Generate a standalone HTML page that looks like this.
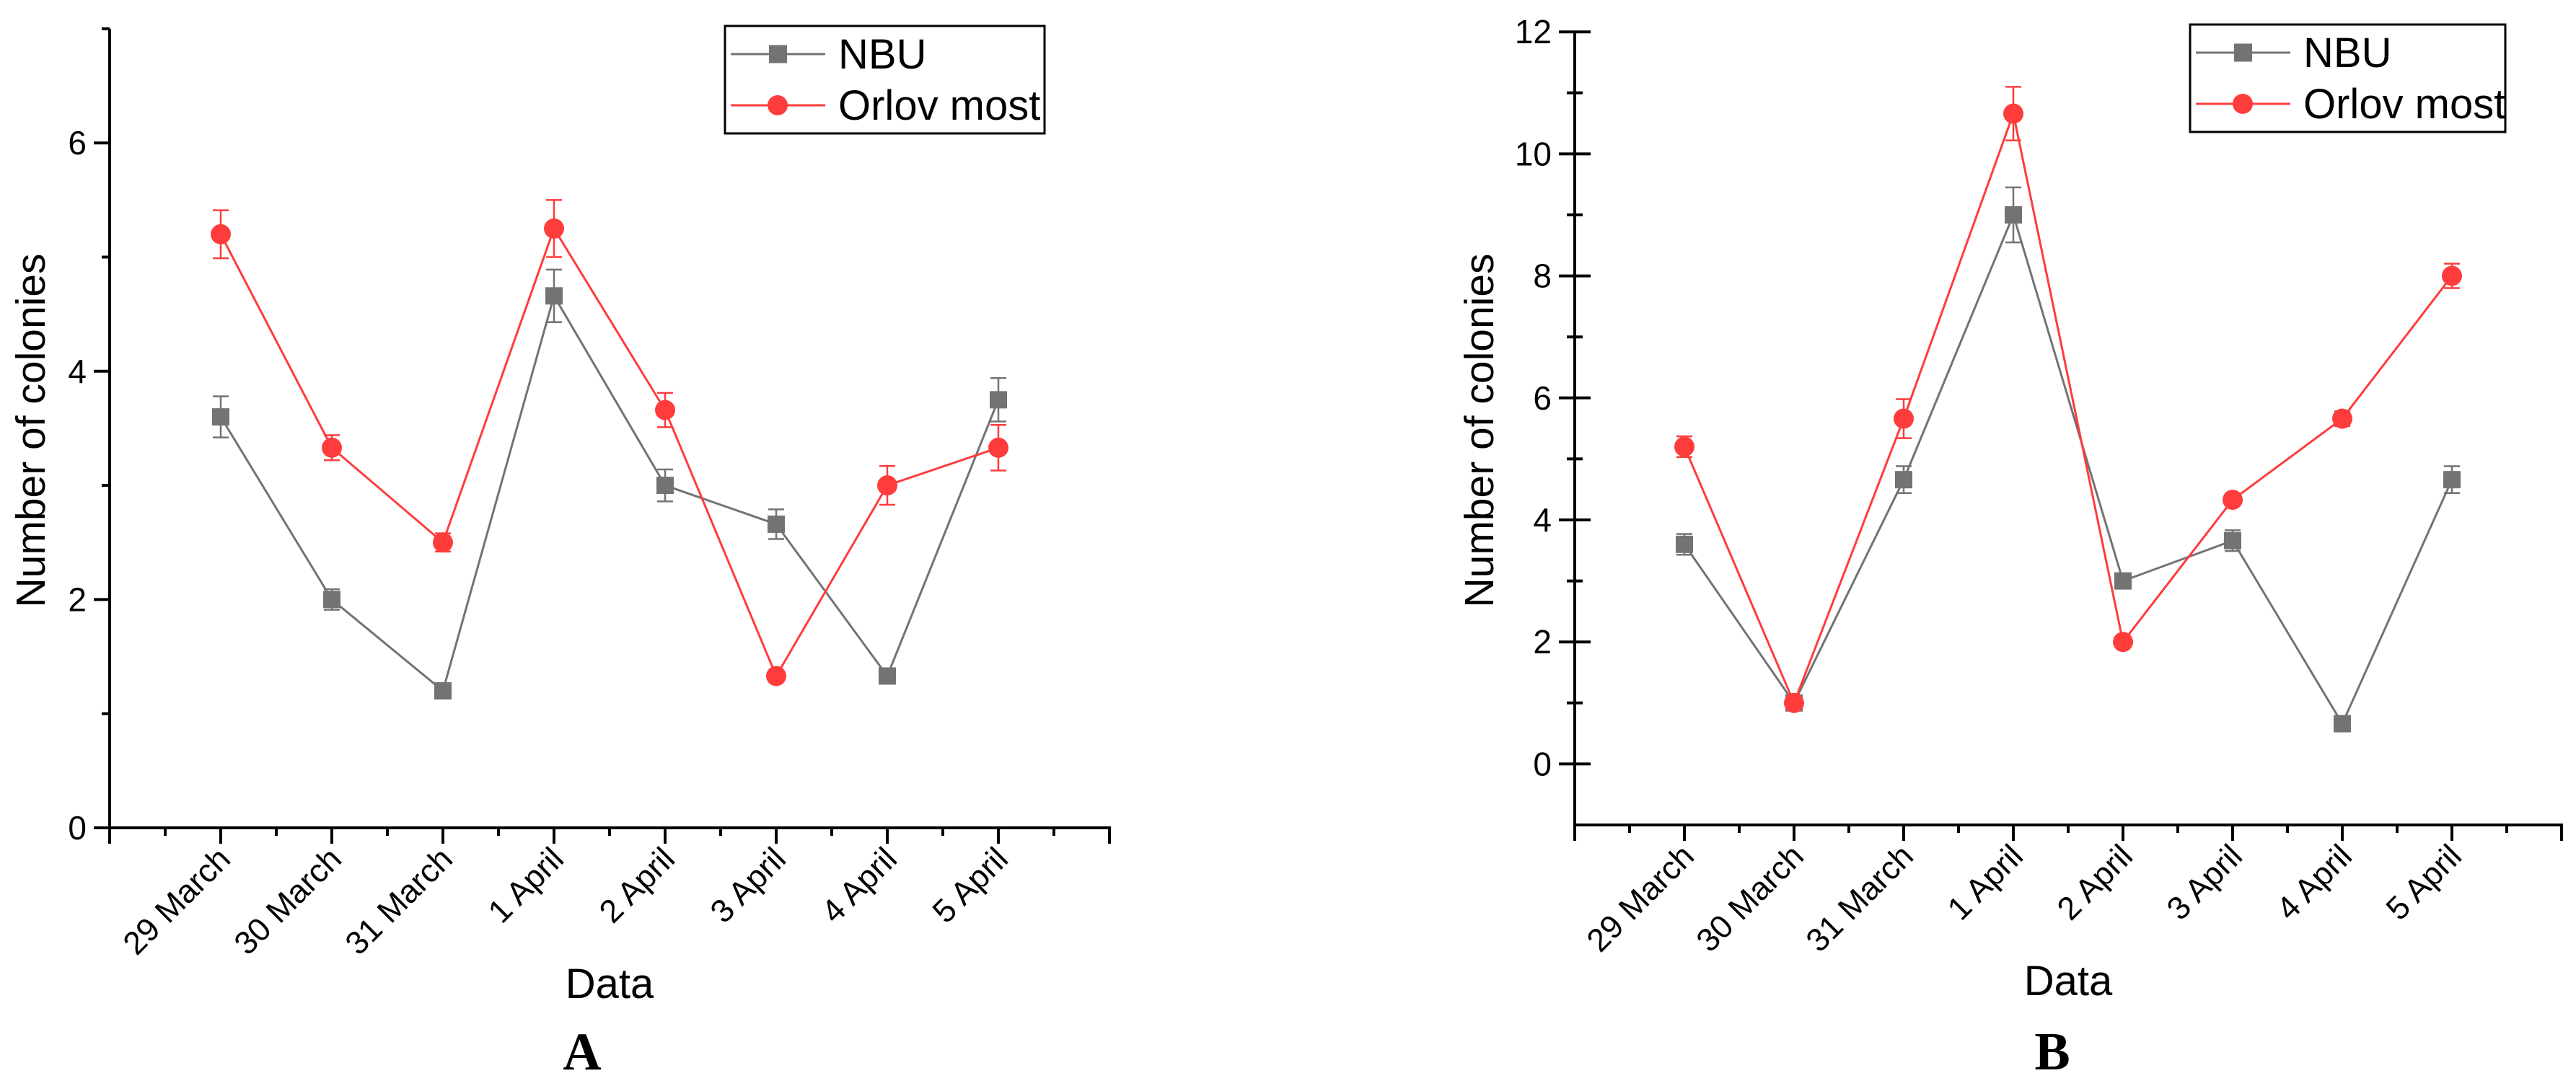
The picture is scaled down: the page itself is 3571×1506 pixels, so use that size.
<!DOCTYPE html>
<html><head><meta charset="utf-8"><style>
html,body{margin:0;padding:0;background:#fff;}
svg{display:block;font-family:"Liberation Sans",Arial,sans-serif;}
</style></head><body>
<svg id="fig" width="3571" height="1506" viewBox="0 0 3571 1506" xmlns="http://www.w3.org/2000/svg"></svg>
<script>
const categories = ["29 March","30 March","31 March","1 April","2 April","3 April","4 April","5 April"];
const nbuA = [3.6, 2.0, 1.2, 4.66, 3.0, 2.66, 1.33, 3.75];
const nbuAErr = [0.18, 0.09, 0.05, 0.23, 0.14, 0.13, 0.05, 0.19];
const orlovA = [5.2, 3.33, 2.5, 5.25, 3.66, 1.33, 3.0, 3.33];
const orlovAErr = [0.21, 0.11, 0.08, 0.25, 0.15, 0.04, 0.17, 0.2];
const nbuB = [3.6, 1.0, 4.66, 9.0, 3.0, 3.66, 0.66, 4.66];
const nbuBErr = [0.17, 0.05, 0.22, 0.45, 0.05, 0.17, 0.05, 0.22];
const orlovB = [5.2, 1.0, 5.66, 10.66, 2.0, 4.33, 5.66, 8.0];
const orlovBErr = [0.17, 0.05, 0.32, 0.44, 0.05, 0.06, 0.12, 0.2];
const yTicksA = [0, 2, 4, 6];
const yTicksB = [0, 2, 4, 6, 8, 10, 12];

const NS = "http://www.w3.org/2000/svg";
const svg = document.getElementById('fig');
function mk(tag, attrs, parent, text){
  const e = document.createElementNS(NS, tag);
  for (const k in attrs) e.setAttribute(k, attrs[k]);
  if (text !== undefined) e.textContent = text;
  (parent || svg).appendChild(e);
  return e;
}
const GRAY = "#737373", RED = "#ff3c3c";

function drawChart(c){
  const g = mk('g', {});
  
  
  const xS = i => c.x0 + (i + 1) * c.step;
  const yS = v => c.yBase - (v - c.yMin) * c.unit;
  const xEnd = c.x0 + 9 * c.step;
  const yTop = yS(c.yMax);
  const ya = mk('line', {x1:c.x0, y1:c.yBase+2, x2:c.x0, y2:yTop, stroke:'#000','stroke-width':4}, g);
  
  
  const xa = mk('line', {x1:c.x0-2, y1:c.yBase, x2:xEnd+2, y2:c.yBase, stroke:'#000','stroke-width':4}, g);
  
  
  for (let v = c.yMin; v <= c.yMax + 1e-9; v += 1){
    const major = c.yTicks.includes(v);
    const y = yS(v);
    if (major){
      const t = mk('line', {x1:c.x0-22, y1:y, x2:c.x0+(c.inner?22:0), y2:y, stroke:'#000','stroke-width':4}, g);
      
      
      const l = mk('text', {x:c.x0-32, y:y+16, 'font-size':46, 'text-anchor':'end'}, g, String(v));
      
      
    } else if (Math.abs(v - c.yMin) > 1e-9) {
      const t = mk('line', {x1:c.x0-11, y1:y, x2:c.x0+(c.inner?11:0), y2:y, stroke:'#000','stroke-width':4}, g);
      
      
    }
  }
  for (let k = 0; k <= 18; k++){
    const x = c.x0 + k * c.step / 2;
    const major = k % 2 === 0;
    const t = mk('line', {x1:x, y1:c.yBase, x2:x, y2:c.yBase + (major?22:11), stroke:'#000','stroke-width':4}, g);
    
    
  }
  categories.forEach((cat, i) => {
    const x = xS(i) + 16, y = c.yBase + 46;
    const l = mk('text', {x:x, y:y, 'font-size':45, 'text-anchor':'end', transform:`rotate(-45 ${x} ${y})`}, g, cat);
    
    
  });
  const xt = mk('text', {x:(c.x0+xEnd)/2, y:c.yBase+236, 'font-size':58, 'text-anchor':'middle'}, g, 'Data');
  
  
  const yt = mk('text', {x:c.ytX, y:597, 'font-size':57, 'text-anchor':'middle', transform:`rotate(-90 ${c.ytX} 597)`}, g, 'Number of colonies');
  
  
  const pl = mk('text', {x:c.panelX, y:1483, 'font-size':74, 'font-weight':'bold', 'text-anchor':'middle', 'font-family':'"Liberation Serif",serif'}, g, c.panel);
  
  
  const series = [
    {vals:c.nbu, err:c.nbuErr, color:GRAY, shape:'square', name:'nbu'},
    {vals:c.orlov, err:c.orlovErr, color:RED, shape:'circle', name:'orlov-most'}
  ];
  series.forEach(s => {
    const sg = mk('g', {}, g);
    
    
    const pts = s.vals.map((v,i) => xS(i) + ',' + yS(v)).join(' ');
    const pl = mk('polyline', {points:pts, fill:'none', stroke:s.color, 'stroke-width':3}, sg);
    
    
    s.vals.forEach((v,i) => {
      const x = xS(i), y1 = yS(v + s.err[i]), y2 = yS(v - s.err[i]);
      const eb = mk('path', {d:`M${x},${y1}V${y2}M${x-11},${y1}H${x+11}M${x-11},${y2}H${x+11}`, stroke:s.color, 'stroke-width':2.5, fill:'none'}, sg);
      
      
      let m;
      if (s.shape === 'square') m = mk('rect', {x:x-12, y:yS(v)-12, width:24, height:24, fill:s.color}, sg);
      else m = mk('circle', {cx:x, cy:yS(v), r:14, fill:s.color}, sg);
      
      
    });
  });
  const L = c.legend;
  const lg = mk('g', {}, g);
  
  
  mk('rect', {x:L.x, y:L.y, width:L.w, height:L.h, fill:'#fff', stroke:'#000', 'stroke-width':3}, lg);
  const rows = [{t:'NBU', color:GRAY, shape:'square', dy:39}, {t:'Orlov most', color:RED, shape:'circle', dy:110}];
  rows.forEach(r => {
    const e = mk('g', {}, lg);
    
    
    const y = L.y + r.dy;
    mk('line', {x1:L.x+8, y1:y, x2:L.x+139, y2:y, stroke:r.color, 'stroke-width':3}, e);
    if (r.shape === 'square') mk('rect', {x:L.x+61, y:y-12.5, width:25, height:25, fill:r.color}, e);
    else mk('circle', {cx:L.x+73, cy:y, r:14, fill:r.color}, e);
    mk('text', {x:L.x+157, y:y+20, 'font-size':58}, e, r.t);
  });
}

drawChart({name:'chart-a', panel:'A', panelX:807, x0:152, step:154, yBase:1148, yMin:0, yMax:7, unit:158.3,
  yTicks:yTicksA, inner:false, ytX:62, nbu:nbuA, nbuErr:nbuAErr, orlov:orlovA, orlovErr:orlovAErr,
  legend:{x:1005, y:36, w:443, h:149}});
drawChart({name:'chart-b', panel:'B', panelX:2845, x0:2183, step:152, yBase:1144, yMin:-1, yMax:12, unit:84.6,
  yTicks:yTicksB, inner:true, ytX:2070, nbu:nbuB, nbuErr:nbuBErr, orlov:orlovB, orlovErr:orlovBErr,
  legend:{x:3036, y:34, w:437, h:149}});
</script>
</body></html>
